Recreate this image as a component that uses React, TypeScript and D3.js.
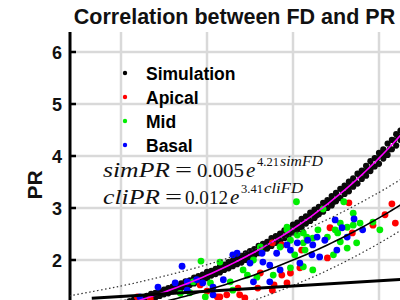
import React from 'react';
import * as d3 from 'd3';

const xTicks = [1.3, 1.4, 1.5, 1.6];
const yTicks = [2, 3, 4, 5, 6];

// fitted curves (a * e^(b * FD))
const simFit = { a: 0.0047, b: 4.21 };
const cliFit = { a: 0.012, b: 3.41 };

// prediction bounds of the clinical fit
const cliUpper: [number, number][] = [
  [1.24, 1.31], [1.3, 1.5], [1.35, 1.69], [1.4, 1.91], [1.45, 2.18],
  [1.5, 2.49], [1.55, 2.86], [1.6, 3.3], [1.63, 3.6],
];
const cliLower: [number, number][] = [
  [1.4, 0.93], [1.45, 1.2], [1.5, 1.51], [1.55, 1.88], [1.6, 2.32], [1.63, 2.62],
];
const identity: [number, number][] = [[1.266, 1.266], [1.65, 1.65]];

const simulation: [number, number][] = [
  [1.3, 1.16], [1.3, 1.08], [1.305, 1.18], [1.305, 1.11], [1.31, 1.21], [1.31, 1.14],
  [1.315, 1.24], [1.315, 1.16], [1.32, 1.26], [1.32, 1.18], [1.325, 1.28], [1.325, 1.21],
  [1.33, 1.31], [1.33, 1.23], [1.335, 1.35], [1.335, 1.26], [1.34, 1.37], [1.34, 1.28],
  [1.345, 1.39], [1.345, 1.31], [1.35, 1.43], [1.35, 1.34], [1.355, 1.46], [1.355, 1.36],
  [1.36, 1.49], [1.36, 1.4], [1.365, 1.51], [1.365, 1.43], [1.37, 1.55], [1.37, 1.46],
  [1.375, 1.59], [1.375, 1.49], [1.38, 1.61], [1.38, 1.52], [1.385, 1.66], [1.385, 1.55],
  [1.39, 1.69], [1.39, 1.58], [1.395, 1.72], [1.395, 1.62], [1.4, 1.77], [1.4, 1.65],
  [1.405, 1.79], [1.405, 1.7], [1.41, 1.83], [1.41, 1.73], [1.415, 1.88], [1.415, 1.76],
  [1.42, 1.91], [1.42, 1.81], [1.425, 1.96], [1.425, 1.84], [1.43, 1.99], [1.43, 1.88],
  [1.435, 2.05], [1.435, 1.92], [1.44, 2.08], [1.44, 1.95], [1.445, 2.13], [1.445, 2.0],
  [1.45, 2.17], [1.45, 2.04], [1.455, 2.21], [1.455, 2.09], [1.46, 2.27], [1.46, 2.13],
  [1.465, 2.31], [1.465, 2.19], [1.47, 2.35], [1.47, 2.22], [1.475, 2.42], [1.475, 2.27],
  [1.48, 2.46], [1.48, 2.33], [1.485, 2.51], [1.485, 2.37], [1.49, 2.57], [1.49, 2.42],
  [1.495, 2.61], [1.495, 2.48], [1.5, 2.68], [1.5, 2.53], [1.505, 2.72], [1.505, 2.58],
  [1.51, 2.79], [1.51, 2.63], [1.515, 2.84], [1.515, 2.7], [1.52, 2.91], [1.52, 2.75],
  [1.525, 2.97], [1.525, 2.81], [1.53, 3.02], [1.53, 2.88], [1.535, 3.1], [1.535, 2.93],
  [1.54, 3.15], [1.54, 3.0], [1.545, 3.23], [1.545, 3.05], [1.55, 3.29], [1.55, 3.13],
  [1.555, 3.37], [1.555, 3.19], [1.56, 3.43], [1.56, 3.27], [1.565, 3.51], [1.565, 3.32],
  [1.57, 3.57], [1.57, 3.41], [1.575, 3.66], [1.575, 3.47], [1.58, 3.72], [1.58, 3.56],
  [1.585, 3.81], [1.585, 3.62], [1.59, 3.9], [1.59, 3.71], [1.595, 3.96], [1.595, 3.8],
  [1.6, 4.06], [1.6, 3.85], [1.605, 4.13], [1.605, 3.95], [1.61, 4.24], [1.61, 4.02],
  [1.615, 4.31], [1.615, 4.13], [1.62, 4.42], [1.62, 4.2], [1.625, 4.49], [1.625, 4.31],
  [1.63, 4.6], [1.63, 4.38],
  [1.3025, 1.14], [1.3125, 1.17], [1.3225, 1.24], [1.3325, 1.28], [1.3425, 1.35],
  [1.3525, 1.39], [1.3625, 1.46], [1.3725, 1.51], [1.3825, 1.6], [1.3925, 1.64],
  [1.4025, 1.74], [1.4125, 1.78], [1.4225, 1.89], [1.4325, 1.94], [1.4425, 2.06],
  [1.4525, 2.11], [1.4625, 2.24], [1.4725, 2.29], [1.4825, 2.44], [1.4925, 2.49],
  [1.5025, 2.66], [1.5125, 2.71], [1.5225, 2.88], [1.5325, 2.95], [1.5425, 3.13],
  [1.5525, 3.21], [1.5625, 3.4], [1.5725, 3.49], [1.5825, 3.7], [1.5925, 3.8],
  [1.6025, 4.03], [1.6125, 4.13], [1.6225, 4.38], [1.6325, 4.5],
  [1.5075, 2.64], [1.5175, 2.82], [1.5275, 2.86], [1.5375, 3.06], [1.5475, 3.12],
  [1.5575, 3.33], [1.5675, 3.42], [1.5775, 3.63], [1.5875, 3.72], [1.5975, 3.95],
  [1.6075, 4.06], [1.6175, 4.3], [1.6275, 4.41],
];

const apical: [number, number][] = [
  [1.319, 1.29], [1.334, 1.25], [1.392, 1.52], [1.4, 1.4], [1.412, 1.29], [1.415, 1.29],
  [1.423, 1.33], [1.436, 1.46], [1.438, 1.33], [1.444, 1.27], [1.459, 1.46], [1.462, 1.75],
  [1.476, 1.42], [1.478, 1.52], [1.487, 1.71], [1.493, 1.56], [1.487, 2.29], [1.476, 2.33],
  [1.497, 1.75], [1.508, 1.85], [1.51, 2.19], [1.54, 2.04], [1.543, 2.62], [1.565, 3.1],
  [1.569, 2.52], [1.593, 2.67], [1.607, 2.87], [1.615, 3.08], [1.619, 2.71],
];

const mid: [number, number][] = [
  [1.369, 1.36], [1.38, 1.37], [1.384, 1.58], [1.393, 1.98], [1.398, 1.29], [1.404, 1.56],
  [1.415, 1.96], [1.427, 1.58], [1.43, 1.42], [1.442, 1.81], [1.447, 1.71], [1.454, 2.0],
  [1.458, 1.67], [1.462, 2.25], [1.477, 1.71], [1.485, 2.25], [1.493, 2.63], [1.497, 1.85],
  [1.502, 2.1], [1.505, 2.48], [1.504, 3.12], [1.493, 2.58], [1.497, 2.38], [1.512, 2.52],
  [1.512, 2.33], [1.512, 1.87], [1.514, 2.19], [1.516, 2.44], [1.523, 1.81], [1.523, 2.42],
  [1.529, 2.58], [1.535, 2.98], [1.54, 2.44], [1.547, 2.1], [1.549, 2.58], [1.552, 2.52],
  [1.555, 2.71], [1.555, 2.35], [1.559, 3.12], [1.563, 2.23], [1.563, 2.63], [1.57, 2.9],
  [1.57, 2.67], [1.574, 2.33], [1.578, 2.71], [1.593, 2.73], [1.601, 2.58],
];

const basal: [number, number][] = [
  [1.322, 1.29], [1.343, 1.48], [1.363, 1.56], [1.371, 1.88], [1.377, 1.58], [1.377, 1.42],
  [1.388, 1.62], [1.395, 1.56], [1.407, 1.48], [1.407, 1.33], [1.419, 1.62], [1.43, 2.1],
  [1.435, 2.13], [1.45, 1.94], [1.454, 1.58], [1.464, 2.13], [1.465, 1.96], [1.473, 1.9],
  [1.473, 1.58], [1.481, 2.13], [1.485, 1.81], [1.493, 2.29], [1.497, 2.19], [1.505, 2.33],
  [1.508, 1.94], [1.517, 2.38], [1.522, 2.1], [1.523, 2.29], [1.528, 2.44], [1.531, 2.06],
  [1.537, 2.38], [1.549, 2.77], [1.551, 2.19], [1.557, 2.62], [1.563, 2.44], [1.571, 2.79],
  [1.581, 2.58],
];

const legendItems = [
  { label: 'Simulation', color: '#000000' },
  { label: 'Apical', color: '#ff0000' },
  { label: 'Mid', color: '#00ee00' },
  { label: 'Basal', color: '#0000ff' },
];

const width = 400;
const height = 300;

export default function App() {
  const x = d3.scaleLinear().domain([1.3, 1.6]).range([121, 379]);
  const y = d3.scaleLinear().domain([2, 6]).range([260, 52]);
  const axisX = 70;
  const top = 32;

  const line = d3.line<[number, number]>().x(d => x(d[0])).y(d => y(d[1]));
  const smooth = d3.line<[number, number]>().x(d => x(d[0])).y(d => y(d[1])).curve(d3.curveNatural);
  const fdSamples = d3.range(1.24, 1.66, 0.005);
  const fitPath = (f: { a: number; b: number }) =>
    line(fdSamples.map(fd => [fd, f.a * Math.exp(f.b * fd)] as [number, number]));

  const dots = (data: [number, number][], color: string, r: number) =>
    data.map((d, i) => <circle key={i} cx={x(d[0])} cy={y(d[1])} r={r} fill={color} />);

  const mathFont = '"Liberation Serif", "DejaVu Serif", serif';
  const sans = '"Liberation Sans", Arial, sans-serif';

  return (
    <div style={{ position: 'absolute', left: 0, top: 0 }}>
      <svg width={width} height={height} style={{ display: 'block', background: '#fff' }}>
        <defs>
          <clipPath id="plot">
            <rect x={axisX} y={top} width={width - axisX} height={height - top} />
          </clipPath>
        </defs>

        <text x={234.5} y={24} textAnchor="middle" fontFamily={sans} fontWeight="bold" fontSize={21.5} fill="#111">
          Correlation between FD and PR
        </text>

        {/* grid */}
        <g stroke="#d9d9d9" strokeWidth={2.5}>
          {yTicks.map(t => <line key={'h' + t} x1={axisX} x2={width} y1={y(t)} y2={y(t)} />)}
          {xTicks.map(t => <line key={'v' + t} x1={x(t)} x2={x(t)} y1={top} y2={height} />)}
        </g>

        {/* y axis */}
        <line x1={axisX} x2={axisX} y1={top} y2={height} stroke="#000" strokeWidth={3} />
        {yTicks.map(t => (
          <g key={t}>
            <line x1={axisX} x2={axisX + 6} y1={y(t)} y2={y(t)} stroke="#000" strokeWidth={2.5} />
            <text x={62} y={y(t) + 6.5} textAnchor="end" fontFamily={sans} fontWeight="bold" fontSize={18} fill="#111">
              {t}
            </text>
          </g>
        ))}
        <text transform="translate(42,185) rotate(-90)" textAnchor="middle" fontFamily={sans} fontWeight="bold" fontSize={21} fill="#111">
          PR
        </text>

        <g clipPath="url(#plot)">
          <g>{dots(simulation, '#0a0a0a', 3.1)}</g>
          <g>{dots(apical, '#ff0000', 3.4)}</g>
          <g>{dots(mid, '#00ee00', 3.4)}</g>
          <g>{dots(basal, '#0000ff', 3.4)}</g>
          <path d={fitPath(simFit) || ''} fill="none" stroke="#ff00ff" strokeWidth={1.6} />
          <path d={fitPath(cliFit) || ''} fill="none" stroke="#000" strokeWidth={1.6} />
          <path d={smooth(cliUpper) || ''} fill="none" stroke="#333" strokeWidth={1.2} strokeDasharray="1.5 2.5" />
          <path d={smooth(cliLower) || ''} fill="none" stroke="#333" strokeWidth={1.2} strokeDasharray="1.5 2.5" />
          <path d={line(identity) || ''} fill="none" stroke="#000" strokeWidth={3} />
        </g>

        {/* legend */}
        {legendItems.map((item, i) => (
          <g key={item.label}>
            <circle cx={125} cy={73 + i * 24} r={2.2} fill={item.color} />
            <text x={146} y={79.5 + i * 24} fontFamily={sans} fontWeight="bold" fontSize={17.5} fill="#000">
              {item.label}
            </text>
          </g>
        ))}

        {/* equations */}
        <g fontFamily={mathFont} fill="#111">
          <text fontSize={21}>
            <tspan x={103} y={177} fontStyle="italic" textLength={67} lengthAdjust="spacingAndGlyphs">simPR</tspan>
            <tspan x={175} y={177} textLength={17} lengthAdjust="spacingAndGlyphs">=</tspan>
            <tspan x={197} y={177} fontSize={19.5} textLength={47} lengthAdjust="spacingAndGlyphs">0.005</tspan>
            <tspan x={246} y={177} fontStyle="italic">e</tspan>
            <tspan x={257} y={166} fontSize={12.5}>4.21</tspan>
            <tspan x={280} y={166} fontSize={14} fontStyle="italic" textLength={43} lengthAdjust="spacingAndGlyphs">simFD</tspan>
          </text>
          <text fontSize={21}>
            <tspan x={103} y={204} fontStyle="italic" textLength={57} lengthAdjust="spacingAndGlyphs">cliPR</tspan>
            <tspan x={165} y={204} textLength={17} lengthAdjust="spacingAndGlyphs">=</tspan>
            <tspan x={185} y={204} fontSize={19.5} textLength={43} lengthAdjust="spacingAndGlyphs">0.012</tspan>
            <tspan x={230} y={204} fontStyle="italic">e</tspan>
            <tspan x={241} y={193} fontSize={12.5}>3.41</tspan>
            <tspan x={264} y={193} fontSize={14} fontStyle="italic" textLength={39} lengthAdjust="spacingAndGlyphs">cliFD</tspan>
          </text>
        </g>
      </svg>
    </div>
  );
}
